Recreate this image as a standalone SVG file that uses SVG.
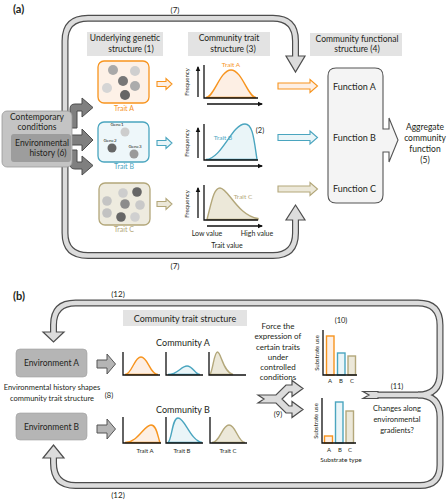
<svg xmlns="http://www.w3.org/2000/svg" width="448" height="500" viewBox="0 0 448 500">
<defs>
<style>
text{font-family:Lato,"Open Sans","Liberation Sans",sans-serif;fill:#231f20}
.po{fill:none;stroke:#4d4d4d;stroke-width:7}
.pi{fill:none;stroke:#dcdcdc;stroke-width:4.6}
.ph{fill:#dcdcdc;stroke:#4d4d4d;stroke-width:1.2;stroke-linejoin:miter}
.lbl{fill:#e3e3e3}
.ax{fill:none;stroke:#111;stroke-width:1.3}
.axa{fill:none;stroke:#111;stroke-width:1.3;marker-end:url(#ar)}
.or{stroke:#f7941e}
.te{stroke:#4aa5bf}
.kh{stroke:#b3a77a}
.fo{fill:#fdefe4}
.ft{fill:#eaf5f8}
.fk{fill:#ece8d9}
.cv{stroke-width:1.4}
.bar{stroke-width:1.4}
.dk{fill:#7f7f7f;stroke:#4d4d4d;stroke-width:1}
.gb{fill:#b5b5b5;stroke:#555;stroke-width:1}
</style>
<marker id="ar" viewBox="0 0 10 10" refX="8" refY="5" markerWidth="4" markerHeight="4" orient="auto"><path d="M0,0.5 L10,5 L0,9.5 Z" fill="#111"/></marker>
</defs>
<rect width="448" height="500" fill="#fff"/>

<!-- connectors -->
<g id="connectors">
  <!-- panel a loop (7) -->
  <path class="po" d="M65,112 L65,41 Q65,18.3 88,18.3 L273,18.3 Q295.5,18.3 295.5,41 L295.5,58"/>
  <path class="po" d="M65,166 L65,233 Q65,255.5 88,255.5 L273,255.5 Q295.5,255.5 295.5,233 L295.5,218"/>
  <polygon class="ph" points="286,56 305,56 295.5,72"/>
  <polygon class="ph" points="286,220 305,220 295.5,205"/>
  <path class="pi" d="M65,112 L65,41 Q65,18.3 88,18.3 L273,18.3 Q295.5,18.3 295.5,41 L295.5,58"/>
  <path class="pi" d="M65,166 L65,233 Q65,255.5 88,255.5 L273,255.5 Q295.5,255.5 295.5,233 L295.5,218"/>

  <!-- panel b loop (12) with junction (11) -->
  <path class="po" d="M53.5,334 L53.5,325 Q53.5,303 75.5,303 L418,303 Q440,303 440,325 L440,373 Q440,395 418,395 L375,395"/>
  <path class="po" d="M418,395 Q440,395 440,417 L440,465 Q440,485.5 420,485.5 L75.5,485.5 Q53.5,485.5 53.5,463 L53.5,456"/>
  <polygon class="ph" points="43,332 64,332 53.5,342"/>
  <polygon class="ph" points="43,458 64,458 53.5,445"/>
  <polygon class="ph" points="363,391.5 378,391.5 378,398.5 363,398.5 369,395"/>
  <path class="pi" d="M53.5,334 L53.5,325 Q53.5,303 75.5,303 L418,303 Q440,303 440,325 L440,373 Q440,395 418,395 L375,395"/>
  <path class="pi" d="M418,395 Q440,395 440,417 L440,465 Q440,485.5 420,485.5 L75.5,485.5 Q53.5,485.5 53.5,463 L53.5,456"/>

  <!-- small hollow arrows trait box -> chart -->
  <path class="or fo" stroke-width="1.1" d="M157,81.5 L166,81.5 L166,78.5 L172,84 L166,89.5 L166,86.5 L157,86.5 Z"/>
  <path class="te ft" stroke-width="1.1" d="M157,140.5 L166,140.5 L166,137.5 L172,143 L166,148.5 L166,145.5 L157,145.5 Z"/>
  <path class="kh fk" stroke-width="1.1" d="M157,201.5 L166,201.5 L166,198.5 L172,204 L166,209.5 L166,206.5 L157,206.5 Z"/>

  <!-- chart -> function arrows -->
  <path class="or fo" stroke-width="1.1" d="M278,83 L310,83 L310,79.5 L317.5,86 L310,92.5 L310,89 L278,89 Z"/>
  <path class="te ft" stroke-width="1.1" d="M278,134.5 L310,134.5 L310,131 L317.5,137.5 L310,144 L310,140.5 L278,140.5 Z"/>
  <path class="kh fk" stroke-width="1.1" d="M278,186 L310,186 L310,182.5 L317.5,189 L310,195.5 L310,192 L278,192 Z"/>

  <!-- contemporary conditions arrows -->
  <path class="dk" d="M70,128 L70,109 Q70,104 75,104 L82,104 L82,98 L93,107.5 L82,117 L82,111 L77,111 L77,128 Z"/>
  <path class="dk" d="M70,135 L82,135 L82,129 L93,140 L82,151 L82,145 L70,145 Z"/>
  <path class="dk" d="M77,150 L77,162 L82,162 L82,156 L93,165.5 L82,175 L82,169 L75,169 Q70,169 70,164 L70,150 Z"/>

  <!-- environment -> community arrows -->
  <path class="gb" d="M97,360 L107,360 L107,354 L115.5,364 L107,374 L107,368 L97,368 Z"/>
  <path class="gb" d="M97,425 L107,425 L107,419 L115.5,429 L107,439 L107,433 L97,433 Z"/>

  <!-- split arrow (9) -->
  <polygon class="ph" points="258,395 276,395 286,385 292,385 292,380.5 303,388.5 292,396.5 292,392 289,392 282,399 289,406 292,406 292,401.5 303,409.5 292,417.5 292,413 286,413 276,403 258,403 264,399"/>
</g>

<!-- ================= panel (a) ================= -->
<text x="13" y="13" font-size="11" font-weight="bold">(a)</text>
<text x="175" y="13" font-size="8" text-anchor="middle">(7)</text>
<text x="175" y="269" font-size="8" text-anchor="middle">(7)</text>

<g id="contemporary">
  <rect x="2" y="111" width="70" height="56" rx="5" fill="#c4c4c4" stroke="#9a9a9a" stroke-width="0.8"/>
  <rect x="11" y="134" width="60" height="28" rx="3" fill="#9d9d9d"/>
  <text x="37" y="120" font-size="8.5" text-anchor="middle">Contemporary</text>
  <text x="37" y="130" font-size="8.5" text-anchor="middle">conditions</text>
  <text x="42" y="146" font-size="8.5" text-anchor="middle">Environmental</text>
  <text x="48" y="156" font-size="8.5" text-anchor="middle">history (6)</text>
</g>

<g id="label-genetic">
  <rect class="lbl" x="87" y="32" width="76" height="24"/>
  <text x="125" y="41" font-size="8.5" text-anchor="middle">Underlying genetic</text>
  <text x="131" y="52" font-size="8.5" text-anchor="middle">structure  (1)</text>
</g>
<g id="label-trait">
  <rect class="lbl" x="188" y="32" width="82" height="24"/>
  <text x="229" y="41" font-size="8.5" text-anchor="middle">Community trait</text>
  <text x="233" y="52" font-size="8.5" text-anchor="middle">structure  (3)</text>
</g>
<g id="label-functional">
  <rect class="lbl" x="310" y="33" width="92" height="23"/>
  <text x="357" y="42" font-size="8.5" text-anchor="middle">Community functional</text>
  <text x="357" y="52" font-size="8.5" text-anchor="middle">structure (4)</text>
</g>

<g id="traitA-box">
  <rect x="98" y="61" width="51" height="42" rx="6" fill="#fdf1e7" stroke="#f7941e" stroke-width="1.3"/>
  <circle cx="113" cy="70" r="5" fill="#a9a9a9"/>
  <circle cx="135" cy="71" r="5" fill="#cfcfcf"/>
  <circle cx="123" cy="81" r="5" fill="#777"/>
  <circle cx="107" cy="88" r="5" fill="#d5d5d5"/>
  <circle cx="135" cy="86" r="5" fill="#acacac"/>
  <circle cx="125" cy="95" r="5" fill="#666"/>
  <text x="124" y="111" font-size="7" text-anchor="middle" style="fill:#f7941e">Trait A</text>
</g>
<g id="traitB-box">
  <rect x="98" y="122" width="51" height="40" rx="6" fill="#eef7fa" stroke="#4aa5bf" stroke-width="1.3"/>
  <text x="117" y="125.5" font-size="4.5" text-anchor="middle">Gene1</text>
  <circle cx="125" cy="132" r="4.5" fill="#cdcdcd"/>
  <text x="110" y="142" font-size="4.5" text-anchor="middle">Gene2</text>
  <circle cx="112" cy="148" r="4.5" fill="#666"/>
  <text x="135" y="148" font-size="4.5" text-anchor="middle">Gene3</text>
  <circle cx="134" cy="154" r="4.5" fill="#9a9a9a"/>
  <text x="124" y="169" font-size="7" text-anchor="middle" style="fill:#4aa5bf">Trait B</text>
</g>
<g id="traitC-box">
  <rect x="99" y="183" width="51" height="42" rx="6" fill="#eeebdf" stroke="#b3a77a" stroke-width="1.3"/>
  <circle cx="123" cy="193" r="4.8" fill="#cdcdcd"/>
  <circle cx="137" cy="192" r="4.8" fill="#666"/>
  <circle cx="107" cy="201" r="4.8" fill="#c4c4c4"/>
  <circle cx="125" cy="204" r="4.8" fill="#8c8c8c"/>
  <circle cx="140" cy="205" r="4.8" fill="#c9c9c9"/>
  <circle cx="107" cy="213" r="4.8" fill="#c2c2c2"/>
  <circle cx="121" cy="217" r="4.8" fill="#666"/>
  <circle cx="135" cy="217" r="4.8" fill="#d0d0d0"/>
  <text x="124" y="232" font-size="7" text-anchor="middle" style="fill:#b3a77a">Trait C</text>
</g>

<g id="chartA">
  <path class="or fo cv" d="M206,97.5 C214,97.5 220,70 231,70 C242,70 248,97.5 256,97.5 Z"/>
  <path class="ax" d="M204,65 L204,98 L258,98"/>
  <line class="axa" x1="198" y1="97" x2="198" y2="67"/>
  <line class="axa" x1="207" y1="104" x2="262" y2="104"/>
  <text transform="translate(189,82) rotate(-90)" font-size="6" text-anchor="middle">Frequency</text>
  <text x="231" y="67" font-size="6.5" text-anchor="middle" style="fill:#f7941e">Trait A</text>
</g>
<g id="chartB">
  <path class="te ft cv" d="M206,159.5 C222,158.5 232,124 245,124 C253,124 254,140 257,159.5 Z"/>
  <path class="ax" d="M204,124 L204,160 L258,160"/>
  <line class="axa" x1="198" y1="158" x2="198" y2="128"/>
  <line class="axa" x1="207" y1="166" x2="262" y2="166"/>
  <text transform="translate(189,143) rotate(-90)" font-size="6" text-anchor="middle">Frequency</text>
  <text x="223" y="140" font-size="6.5" text-anchor="middle" style="fill:#4aa5bf">Trait B</text>
  <text x="260" y="133" font-size="7.5" text-anchor="middle">(2)</text>
</g>
<g id="chartC">
  <path class="kh fk cv" d="M207,219.5 C212,200 214,188 220,188 C228,188 238,216 258,218.5 L258,219.5 Z"/>
  <path class="ax" d="M204,185 L204,220 L258,220"/>
  <line class="axa" x1="198" y1="218" x2="198" y2="188"/>
  <line class="axa" x1="207" y1="226" x2="262" y2="226"/>
  <text transform="translate(189,204) rotate(-90)" font-size="6" text-anchor="middle">Frequency</text>
  <text x="243" y="199" font-size="6.5" text-anchor="middle" style="fill:#b3a77a">Trait C</text>
  <text x="207" y="236" font-size="7" text-anchor="middle">Low value</text>
  <text x="257" y="236" font-size="7" text-anchor="middle">High value</text>
  <text x="227" y="248" font-size="7" text-anchor="middle">Trait value</text>
</g>

<g id="functions">
  <path d="M336,68 L375,68 Q383,68 383,76 L383,129 L389,129 L389,118 L398,140 L389,162 L389,152 L383,152 L383,195 Q383,203 375,203 L336,203 Q328,203 328,195 L328,76 Q328,68 336,68 Z" fill="#f4f4f4" stroke="#555" stroke-width="1.1"/>
  <text x="333" y="90" font-size="9">Function A</text>
  <text x="333" y="141" font-size="9">Function B</text>
  <text x="333" y="192" font-size="9">Function C</text>
</g>
<g id="aggregate">
  <text x="425" y="130" font-size="8.5" text-anchor="middle">Aggregate</text>
  <text x="425" y="141" font-size="8.5" text-anchor="middle">community</text>
  <text x="425" y="152" font-size="8.5" text-anchor="middle">function</text>
  <text x="425" y="163" font-size="8.5" text-anchor="middle">(5)</text>
</g>

<!-- ================= panel (b) ================= -->
<text x="13" y="300" font-size="11" font-weight="bold">(b)</text>
<text x="118" y="297" font-size="8" text-anchor="middle">(12)</text>
<text x="118" y="498" font-size="8" text-anchor="middle">(12)</text>

<g id="label-b-trait">
  <rect class="lbl" x="123" y="310" width="124" height="16"/>
  <text x="185" y="321.5" font-size="9" text-anchor="middle">Community trait structure</text>
</g>

<g id="envA">
  <rect x="16" y="349" width="71" height="28" rx="4" fill="#b5b5b5" stroke="#a0a0a0" stroke-width="0.6"/>
  <text x="51.5" y="366" font-size="8.5" text-anchor="middle">Environment A</text>
</g>
<g id="envB">
  <rect x="16" y="413" width="71" height="27" rx="4" fill="#b5b5b5" stroke="#a0a0a0" stroke-width="0.6"/>
  <text x="51.5" y="430" font-size="8.5" text-anchor="middle">Environment B</text>
</g>
<g id="env-history-label">
  <text x="52" y="390" font-size="7.5" text-anchor="middle">Environmental history shapes</text>
  <text x="52" y="401" font-size="7.5" text-anchor="middle">community trait structure</text>
  <text x="109" y="398" font-size="7.5" text-anchor="middle">(8)</text>
</g>

<g id="communityA">
  <text x="183" y="346" font-size="9" text-anchor="middle">Community A</text>
  <path class="or fo cv" d="M125,374.5 C132,374.5 134,357 141,357 C148,357 150,374.5 158,374.5 Z"/>
  <path class="te ft cv" d="M168,374.5 C178,374.5 181,366 187,366 C193,366 195,374.5 200,374.5 Z"/>
  <path class="kh fk cv" d="M210,374.5 C213,370 214,352 217.5,352 C221,352 223,372 233,374.5 Z"/>
  <path class="ax" d="M123,352 L123,375 L160,375"/>
  <path class="ax" d="M166,352 L166,375 L203,375"/>
  <path class="ax" d="M209,352 L209,375 L246,375"/>
</g>
<g id="communityB">
  <text x="183" y="413" font-size="9" text-anchor="middle">Community B</text>
  <path class="or fo cv" d="M125,442.5 C138,442.5 144,425 151,425 C157,425 158,438 160,442.5 Z"/>
  <path class="te ft cv" d="M168,442.5 C172,440 172,418 178,418 C185,418 190,440 202,442.5 Z"/>
  <path class="kh fk cv" d="M212,442.5 C220,442.5 222,425 229,425 C236,425 238,442.5 245,442.5 Z"/>
  <path class="ax" d="M123,417 L123,443 L161,443"/>
  <path class="ax" d="M166,417 L166,443 L203,443"/>
  <path class="ax" d="M210,417 L210,443 L247,443"/>
  <text x="145" y="453" font-size="6" text-anchor="middle">Trait A</text>
  <text x="182" y="453" font-size="6" text-anchor="middle">Trait B</text>
  <text x="228" y="453" font-size="6" text-anchor="middle">Trait C</text>
</g>

<g id="force-label">
  <text x="278" y="329" font-size="8" text-anchor="middle">Force the</text>
  <text x="278" y="339.3" font-size="8" text-anchor="middle">expression of</text>
  <text x="278" y="349.5" font-size="8" text-anchor="middle">certain traits</text>
  <text x="278" y="359.7" font-size="8" text-anchor="middle">under</text>
  <text x="278" y="370" font-size="8" text-anchor="middle">controlled</text>
  <text x="278" y="380.2" font-size="8" text-anchor="middle">conditions</text>
  <text x="278" y="417" font-size="7.5" text-anchor="middle">(9)</text>
</g>

<g id="bars-upper">
  <text x="341" y="323" font-size="7.5" text-anchor="middle">(10)</text>
  <rect class="or fo bar" x="326.5" y="336" width="7.5" height="39"/>
  <rect class="te ft bar" x="337.5" y="353" width="7.5" height="22"/>
  <rect class="kh fk bar" x="348" y="356" width="7.5" height="19"/>
  <path class="ax" d="M323,330 L323,375 L357,375"/>
  <text transform="translate(319,353) rotate(-90)" font-size="6" text-anchor="middle">Substrate use</text>
  <text x="330" y="383" font-size="6" text-anchor="middle">A</text>
  <text x="341" y="383" font-size="6" text-anchor="middle">B</text>
  <text x="352" y="383" font-size="6" text-anchor="middle">C</text>
</g>
<g id="bars-lower">
  <rect class="or fo bar" x="324.5" y="436" width="8" height="7"/>
  <rect class="te ft bar" x="335.5" y="402" width="7.5" height="41"/>
  <rect class="kh fk bar" x="346" y="411" width="7.5" height="32"/>
  <path class="ax" d="M322,398 L322,443 L356,443"/>
  <text transform="translate(318,421) rotate(-90)" font-size="6" text-anchor="middle">Substrate use</text>
  <text x="329" y="452" font-size="6" text-anchor="middle">A</text>
  <text x="340" y="452" font-size="6" text-anchor="middle">B</text>
  <text x="350" y="452" font-size="6" text-anchor="middle">C</text>
  <text x="341" y="462" font-size="6.5" text-anchor="middle">Substrate type</text>
</g>

<g id="changes">
  <text x="397" y="389" font-size="7.5" text-anchor="middle">(11)</text>
  <text x="397" y="411" font-size="7.5" text-anchor="middle">Changes along</text>
  <text x="397" y="422" font-size="7.5" text-anchor="middle">environmental</text>
  <text x="397" y="433" font-size="7.5" text-anchor="middle">gradients?</text>
</g>
</svg>
